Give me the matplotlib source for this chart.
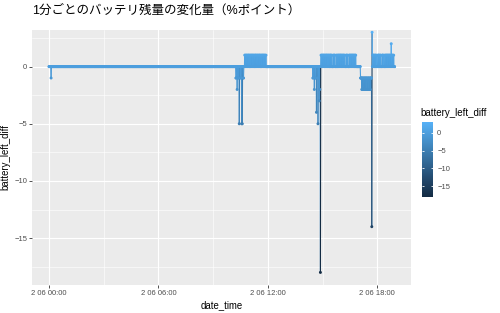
import numpy as np
import matplotlib
matplotlib.use("Agg")
import matplotlib.pyplot as plt
from matplotlib.collections import LineCollection
from matplotlib.colors import LinearSegmentedColormap, Normalize
from matplotlib.cm import ScalarMappable

plt.rcParams["font.family"] = ["Liberation Sans", "Noto Sans CJK JP", "DejaVu Sans"]

# ---------------------------------------------------------------------------
# Data: one reading per minute on 2/06, minutes since 00:00
# ---------------------------------------------------------------------------
END_MIN = 1137

# battery drops (minute, value)
drop_minutes = [7,
                615, 616, 619, 622, 623, 626, 629, 632, 634, 636, 639, 640,
                868, 870, 873, 876, 877, 880, 883, 885, 887, 889, 891, 893,
                1062]
drop_values = [-1,
               -1, -1, -2, -1, -1, -5, -1, -1, -5, -5, -1, -1,
               -1, -1, -2, -1, -1, -4, -1, -5, -1, -3, -2, -18,
               -14]

# heavy drain stretch before the last charge: -1 each minute, -2 on these
drain_start, drain_end = 1025, 1061
drain_minus2 = [1029, 1031, 1034, 1036, 1038, 1041, 1043, 1046, 1048, 1050,
                1053, 1055, 1057]

# charging: +1 at these minutes
charge_minutes = [
    # 10:44 - 11:55
    644, 646, 649, 651, 654, 656, 658, 661, 663, 666, 668, 670, 673, 675,
    678, 680, 682, 685, 687, 690, 692, 694, 697, 699, 702, 704, 706, 709,
    711, 714,
    # 14:55 - 16:50
    895, 897, 900, 902, 904, 907, 909, 912, 914, 916, 919, 921, 924, 926,
    928, 931, 936, 938, 940, 945, 948, 951, 953, 956, 958, 960, 963, 965,
    968, 970, 973, 978, 980, 983, 988, 990, 992, 995, 997, 999, 1002, 1004,
    1007, 1009,
    # 17:45 - 18:55
    1065, 1067, 1069, 1072, 1074, 1077, 1082, 1084, 1086, 1089, 1091, 1096,
    1098, 1100, 1105, 1107, 1110, 1112, 1114, 1117, 1119, 1121, 1124, 1129,
    1131, 1134,
]
spike_minutes = [1063, 1126]
spike_values = [3, 2]

x_ticks = [0, 6, 12, 18]
x_ticklabels = ["2 06 00:00", "2 06 06:00", "2 06 12:00", "2 06 18:00"]
y_ticks = [0, -5, -10, -15]

# ---------------------------------------------------------------------------
# Build series
# ---------------------------------------------------------------------------
values = np.zeros(END_MIN + 1)
values[drain_start:drain_end + 1] = -1
values[drain_minus2] = -2
values[charge_minutes] = 1
values[drop_minutes] = drop_values
values[spike_minutes] = spike_values
hours = np.arange(END_MIN + 1) / 60.0

cmap = LinearSegmentedColormap.from_list(
    "gg", ["#132B43", "#234A6E", "#346E9D", "#4590CA", "#56B1F7"])
norm = Normalize(vmin=values.min(), vmax=values.max())

# ---------------------------------------------------------------------------
# Plot
# ---------------------------------------------------------------------------
fig = plt.figure(figsize=(5.0, 3.13), dpi=100)
fig.patch.set_facecolor("white")
ax = fig.add_axes([32 / 500, 28 / 313, 379 / 500, 255 / 313])
ax.set_facecolor("#EBEBEB")

ax.set_xlim(-0.93, 19.85)
ax.set_ylim(-19.1, 3.2)
ax.set_xticks(x_ticks)
ax.set_xticklabels(x_ticklabels)
ax.set_xticks([3, 9, 15], minor=True)
ax.set_yticks(y_ticks)
ax.set_yticks([2.5, -2.5, -7.5, -12.5, -17.5], minor=True)
ax.grid(which="major", color="white", linewidth=0.8)
ax.grid(which="minor", color="white", linewidth=0.4)
ax.set_axisbelow(True)
for s in ax.spines.values():
    s.set_visible(False)
ax.tick_params(which="major", length=2, width=0.6, color="#333333",
               labelsize=5.5, labelcolor="#4D4D4D", pad=1.5)
ax.tick_params(which="minor", length=0)

pts = np.column_stack([hours, values])
segs = np.stack([pts[:-1], pts[1:]], axis=1)
lc = LineCollection(segs, colors=cmap(norm(values[:-1])), linewidths=0.8,
                    zorder=2)
ax.add_collection(lc)
ax.scatter(hours, values, c=values, cmap=cmap, norm=norm, s=4.5,
           edgecolors="none", zorder=3, clip_on=False)

ax.set_xlabel("date_time", fontsize=6.9, color="black", labelpad=2)
ax.set_ylabel("battery_left_diff", fontsize=6.9, color="black", labelpad=3)
fig.text(32 / 500, 1 - 11 / 313, "1分ごとのバッテリ残量の変化量（%ポイント）",
         fontsize=9.0, ha="left", va="center")

# colour bar legend
cax = fig.add_axes([422 / 500, 1 - 197 / 313, 11 / 500, 75 / 313])
cb = fig.colorbar(ScalarMappable(norm=norm, cmap=cmap), cax=cax)
cb.outline.set_visible(False)
cb.set_ticks(y_ticks)
cax.tick_params(length=0, labelsize=5.5, labelcolor="#4D4D4D", pad=3)
cax.hlines(y_ticks, 0, 0.2, colors="white", linewidth=0.6)
cax.hlines(y_ticks, 0.8, 1, colors="white", linewidth=0.6)
fig.text(420 / 500, 1 - 113 / 313, "battery_left_diff", fontsize=7.0,
         ha="left", va="center")

fig.savefig("out.png", dpi=100)
